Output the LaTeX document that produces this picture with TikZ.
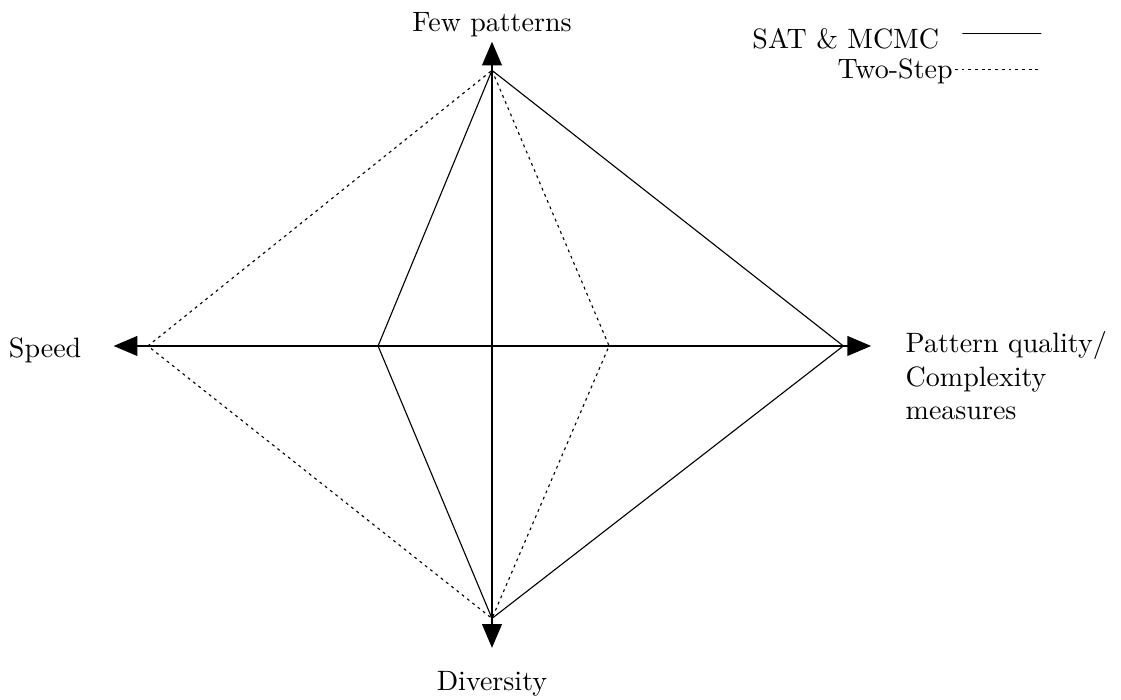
\documentclass[tikz,border=0pt]{standalone}
\usetikzlibrary{arrows.meta,positioning}
\begin{document}
\begin{tikzpicture}
[scale=1, line join=round, line cap=round, >={Triangle[length=8.5pt,width=7pt]},
 axis/.style={thick,<->}, twostep/.style={line cap=butt, dash pattern=on 1pt off 1.4pt}]
\useasboundingbox (-6.176,-4.444) rectangle (7.896,4.343);
% vertices
\coordinate (t) at (0,3.46);
\coordinate (b) at (0,-3.42);
\coordinate (l) at (-4.32,0);
\coordinate (r) at (4.41,0);
\coordinate (sl) at (-1.43,0);
\coordinate (dr) at (1.47,0);
% axis tips
\coordinate (ttip) at (0,3.82);
\coordinate (btip) at (0,-3.79);
\coordinate (ltip) at (-4.75,0);
\coordinate (rtip) at (4.76,0);
\draw (t)--(r)--(b)--(sl)--cycle;
\draw[twostep] (t)--(dr)--(b)--(l)--cycle;
\draw[axis] (ltip)--(rtip);
\draw[axis] (btip)--(ttip);
\node[above, inner sep=1.5pt] (few) at (ttip) {Few patterns};
\node[below=5pt of btip] (div) {Diversity};
\node[left=8pt of ltip, yshift=-1.5pt] (speed) {Speed};
\node[anchor=north west, align=left, xshift=8.8pt, yshift=8.7pt] (qual) at (rtip) {Pattern quality/\\Complexity\\measures};
% legend
\coordinate (satA) at (5.91,3.92);
\coordinate (satB) at (6.89,3.92);
\coordinate (twoA) at (5.81,3.47);
\coordinate (twoB) at (6.89,3.47);
\draw (satA)--(satB);
\draw[twostep] (twoA)--(twoB);
\node[anchor=base east, inner sep=0pt] (satlbl) at (5.62,3.74) {SAT \& MCMC};
\node[anchor=base east, inner sep=0pt] (twolbl) at (5.79,3.36) {Two-Step};
\end{tikzpicture}
\end{document}
